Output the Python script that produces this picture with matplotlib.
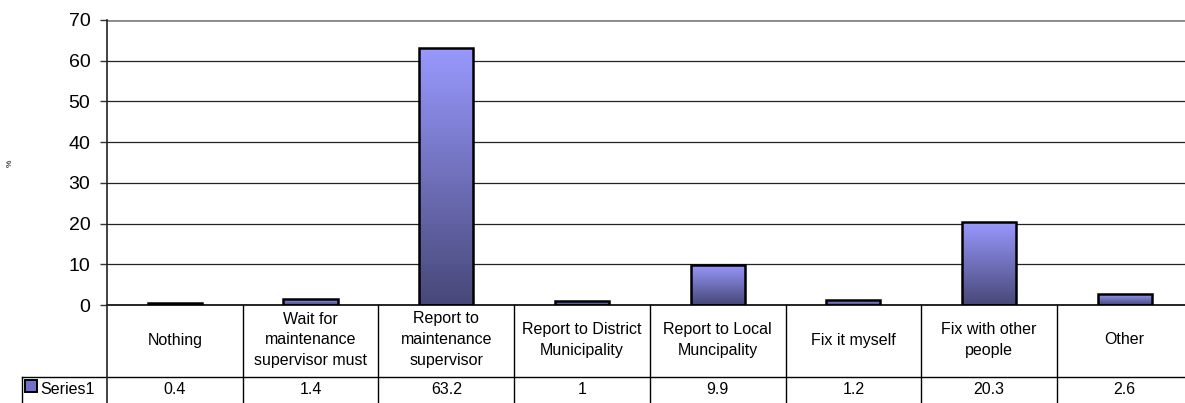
import numpy as np
import matplotlib
matplotlib.use("Agg")
import matplotlib.pyplot as plt
import matplotlib.transforms as mtransforms
from matplotlib.colors import LinearSegmentedColormap
from matplotlib.patches import Rectangle

plt.rcParams['font.family'] = ['Liberation Sans', 'DejaVu Sans']

# --- DATA ---
categories = ["Nothing", "Wait for\nmaintenance\nsupervisor must", "Report to\nmaintenance\nsupervisor",
              "Report to District\nMunicipality", "Report to Local\nMuncipality", "Fix it myself",
              "Fix with other\npeople", "Other"]
values = [0.4, 1.4, 63.2, 1, 9.9, 1.2, 20.3, 2.6]
series_name = "Series1"
yticks = [0, 10, 20, 30, 40, 50, 60, 70]

# --- FIGURE ---
W, H = 1185, 403
fig = plt.figure(figsize=(W / 100, H / 100), dpi=100)
col_w = 135.7
ax = fig.add_axes([107 / W, (H - 305) / H, len(values) * col_w / W, 285 / H])

cmap = LinearSegmentedColormap.from_list("bar", ["#474778", "#9999FF"])
grad = np.linspace(0, 1, 256).reshape(-1, 1)

x = np.arange(len(values))
bars = ax.bar(x, values, width=0.4, facecolor="none", edgecolor="black", linewidth=1.8, zorder=3)
for b in bars:
    im = ax.imshow(grad, cmap=cmap, origin="lower", aspect="auto", zorder=2,
                   extent=[b.get_x(), b.get_x() + b.get_width(), 0, b.get_height()])
    im.set_clip_path(b)

ax.set_xlim(-0.5, len(values) - 0.5)
ax.set_ylim(0, 70)
ax.set_yticks(yticks)
ax.set_yticklabels([str(t) for t in yticks], fontsize=14)
ax.set_xticks([])
ax.tick_params(axis="y", direction="out", length=5, width=1, pad=7, color="#333333")

# gridlines
for t in yticks[1:-1]:
    ax.axhline(t, color="#222222", linewidth=0.9, zorder=1)
ax.axhline(70, color="#888888", linewidth=2, zorder=1)

for s in ["top", "right", "bottom"]:
    ax.spines[s].set_visible(False)
ax.spines["left"].set_color("#222222")
ax.spines["left"].set_linewidth(1.2)

ax.text((10 - 107) / (len(values) * col_w), (305 - 163) / 285, "%", transform=ax.transAxes,
        rotation=90, fontsize=6, ha="center", va="center")

# --- DATA TABLE ---
trans = mtransforms.blended_transform_factory(ax.transData, ax.transAxes)
row1 = (305 - 377) / 285
row_bot = (305 - 410) / 285
legend_left = -0.5 + (22 - 107) / col_w

ax.plot([-0.5, len(values) - 0.5], [0, 0], transform=trans, color="black", lw=1.2, clip_on=False)
ax.plot([legend_left, len(values) - 0.5], [row1, row1], transform=trans, color="black", lw=1, clip_on=False)
ax.plot([-0.5, -0.5], [0, row_bot], transform=trans, color="#222222", lw=1.2, clip_on=False)
ax.plot([legend_left, legend_left], [row1, row_bot], transform=trans, color="black", lw=1, clip_on=False)
for i in range(1, len(values) + 1):
    ax.plot([i - 0.5, i - 0.5], [0, row_bot], transform=trans, color="black", lw=1, clip_on=False)

for i, (c, v) in enumerate(zip(categories, values)):
    ax.text(i, (305 - 340) / 285, c, transform=trans, ha="center", va="center",
            fontsize=11.5, linespacing=1.5)
    ax.text(i, (305 - 390) / 285, f"{v:g}", transform=trans, ha="center", va="center", fontsize=11.5)

# legend key in table
key_w = 12 / col_w
key = Rectangle((legend_left + 3 / col_w, (305 - 392) / 285), key_w, 12 / 285,
                transform=trans, facecolor="#7070C8", edgecolor="black", lw=1.4, clip_on=False)
ax.add_patch(key)
ax.text(legend_left + 18 / col_w, (305 - 390) / 285, series_name, transform=trans,
        ha="left", va="center", fontsize=11.5)

fig.savefig("out.png", dpi=100)
